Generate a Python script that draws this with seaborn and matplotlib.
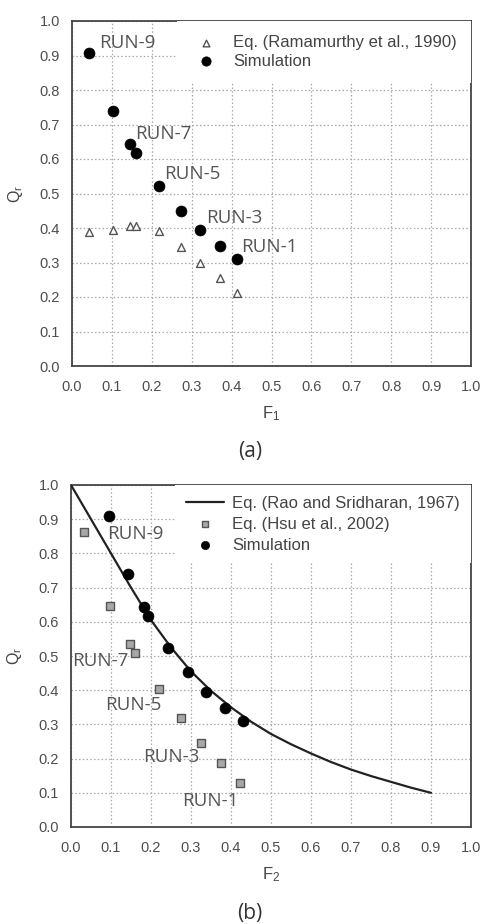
import numpy as np
import pandas as pd
import matplotlib
matplotlib.use("Agg")
import matplotlib.pyplot as plt
import seaborn as sns

# ---------------- data ----------------
# panel (a)
F1_sim = [0.043, 0.104, 0.145, 0.160, 0.217, 0.273, 0.322, 0.370, 0.414]
Qr_sim = [0.907, 0.740, 0.643, 0.616, 0.523, 0.450, 0.395, 0.348, 0.311]
F1_ram = [0.043, 0.104, 0.145, 0.160, 0.218, 0.273, 0.322, 0.370, 0.414]
Qr_ram = [0.388, 0.395, 0.405, 0.405, 0.390, 0.346, 0.298, 0.254, 0.211]

# panel (b)
F2_sim = [0.095, 0.143, 0.182, 0.193, 0.242, 0.292, 0.338, 0.385, 0.430]
Qr_sim2 = [0.908, 0.741, 0.643, 0.618, 0.524, 0.452, 0.396, 0.348, 0.311]
F2_hsu = [0.033, 0.098, 0.147, 0.160, 0.220, 0.276, 0.325, 0.375, 0.423]
Qr_hsu = [0.862, 0.645, 0.535, 0.508, 0.404, 0.320, 0.247, 0.186, 0.128]
F2_rao = [0.0, 0.05, 0.10, 0.15, 0.20, 0.25, 0.30, 0.35, 0.40, 0.45,
          0.50, 0.55, 0.60, 0.65, 0.70, 0.75, 0.80, 0.85, 0.90]
Qr_rao = [1.0, 0.900, 0.800, 0.700, 0.605, 0.525, 0.455, 0.398, 0.350, 0.308,
          0.272, 0.242, 0.215, 0.190, 0.168, 0.149, 0.132, 0.115, 0.100]

run_labels = ["RUN-9", "RUN-7", "RUN-5", "RUN-3", "RUN-1"]
lab_a_x = [0.067, 0.157, 0.231, 0.336, 0.423]
lab_a_y = [0.937, 0.673, 0.556, 0.428, 0.345]
lab_b_x = [0.091, 0.004, 0.086, 0.181, 0.278]
lab_b_y = [0.858, 0.486, 0.357, 0.204, 0.075]

ticks = [0.0, 0.1, 0.2, 0.3, 0.4, 0.5, 0.6, 0.7, 0.8, 0.9, 1.0]
tick_labels = ["0.0", "0.1", "0.2", "0.3", "0.4", "0.5", "0.6", "0.7", "0.8", "0.9", "1.0"]

# ---------------- style ----------------
sns.set_style("white")
plt.rcParams["font.family"] = ["Liberation Sans", "DejaVu Sans"]
plt.rcParams["mathtext.fontset"] = "custom"
plt.rcParams["mathtext.rm"] = "Liberation Sans"

W, H = 482, 924
fig = plt.figure(figsize=(W / 100, H / 100), dpi=100)

def ax_rect(l, r, t, b):
    return [l / W, 1 - b / H, (r - l) / W, (b - t) / H]

ax_a = fig.add_axes(ax_rect(72, 471, 21, 366))
ax_b = fig.add_axes(ax_rect(71, 471, 485, 827))

spine_c = "#444444"
grid_c = "#a8a8a8"
tick_c = "#4d4d4d"
lab_c = "#555555"

def style_axes(ax, xlab):
    ax.set_xlim(0, 1)
    ax.set_ylim(0, 1)
    ax.set_xticks(ticks)
    ax.set_yticks(ticks)
    ax.set_xticklabels(tick_labels)
    ax.set_yticklabels(tick_labels)
    ax.grid(True, color=grid_c, linestyle=(0, (1.2, 1.8)), linewidth=0.9)
    ax.set_axisbelow(True)
    for s in ax.spines.values():
        s.set_visible(True)
        s.set_color(spine_c)
        s.set_linewidth(1.3)
    ax.tick_params(axis="both", which="major", direction="out", length=3.8,
                   width=1.1, color=spine_c, labelsize=10.5, labelcolor=tick_c)
    ax.tick_params(axis="x", pad=6)
    ax.tick_params(axis="y", pad=5)
    ax.set_xlabel(xlab, fontsize=12, color="#444444")
    ax.set_ylabel(r"$\mathregular{Q_r}$", fontsize=11.5, color="#444444")
    ax.xaxis.set_label_coords(0.5, -0.112)
    ax.yaxis.set_label_coords(-0.117, 0.5)

# ---------------- panel (a) ----------------
df_ram = pd.DataFrame({"F": F1_ram, "Q": Qr_ram})
df_sim_a = pd.DataFrame({"F": F1_sim, "Q": Qr_sim})
sns.scatterplot(data=df_ram, x="F", y="Q", ax=ax_a, marker="^", s=32,
                facecolor="white", edgecolor="#555555", linewidth=1.0,
                label="Eq. (Ramamurthy et al., 1990)", zorder=3)
sns.scatterplot(data=df_sim_a, x="F", y="Q", ax=ax_a, marker="o", s=62,
                color="black", edgecolor="black", linewidth=0.5,
                label="Simulation", zorder=4)
style_axes(ax_a, r"$\mathregular{F_1}$")
for t, x, y in zip(run_labels, lab_a_x, lab_a_y):
    ax_a.text(x, y, t, ha="left", va="center", fontsize=13.5,
              color=lab_c, family="Open Sans", zorder=5)
leg_a = ax_a.legend(loc="upper right", bbox_to_anchor=(1.0, 1.0),
                    borderaxespad=0.0, borderpad=0.85, handlelength=1.7,
                    handletextpad=0.8, labelspacing=0.2, fontsize=12,
                    frameon=True, facecolor="white", edgecolor="none",
                    framealpha=1.0, fancybox=False, markerscale=0.85)
for txt in leg_a.get_texts():
    txt.set_color("#444444")

# ---------------- panel (b) ----------------
df_rao = pd.DataFrame({"F": F2_rao, "Q": Qr_rao})
df_hsu = pd.DataFrame({"F": F2_hsu, "Q": Qr_hsu})
df_sim_b = pd.DataFrame({"F": F2_sim, "Q": Qr_sim2})
sns.lineplot(data=df_rao, x="F", y="Q", ax=ax_b, color="#222222",
             linewidth=1.6, label="Eq. (Rao and Sridharan, 1967)", zorder=3)
sns.scatterplot(data=df_hsu, x="F", y="Q", ax=ax_b, marker="s", s=40,
                color="#a8a8a8", edgecolor="#555555", linewidth=1.0,
                label="Eq. (Hsu et al., 2002)", zorder=4)
sns.scatterplot(data=df_sim_b, x="F", y="Q", ax=ax_b, marker="o", s=62,
                color="black", edgecolor="black", linewidth=0.5,
                label="Simulation", zorder=5)
style_axes(ax_b, r"$\mathregular{F_2}$")
for t, x, y in zip(run_labels, lab_b_x, lab_b_y):
    ax_b.text(x, y, t, ha="left", va="center", fontsize=13.5,
              color=lab_c, family="Open Sans", zorder=6)
leg_b = ax_b.legend(loc="upper right", bbox_to_anchor=(1.0, 1.0),
                    borderaxespad=0.0, borderpad=0.65, handlelength=2.3,
                    handletextpad=0.5, labelspacing=0.35, fontsize=12,
                    frameon=True, facecolor="white", edgecolor="none",
                    framealpha=1.0, fancybox=False, markerscale=0.75)
for txt in leg_b.get_texts():
    txt.set_color("#444444")

# ---------------- captions ----------------
fig.text(250 / W, 1 - 452 / H, "(a)", ha="center", va="center",
         fontsize=15, color="#333333", family="Open Sans")
fig.text(250 / W, 1 - 914 / H, "(b)", ha="center", va="center",
         fontsize=15, color="#333333", family="Open Sans")

fig.savefig("out.png", dpi=100)
